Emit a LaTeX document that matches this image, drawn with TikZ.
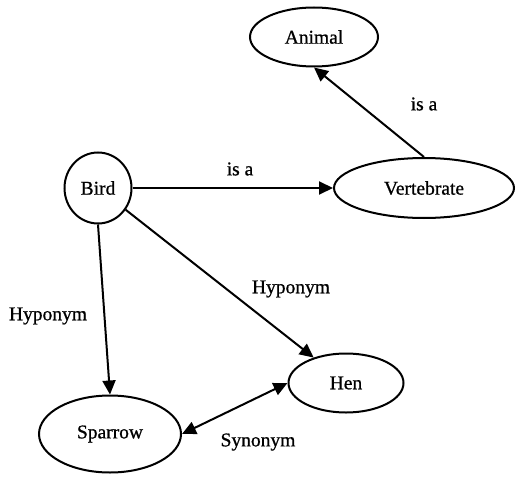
\documentclass[tikz,border=0pt]{standalone}
\usepackage{fontspec}
\setmainfont[FakeBold=0.8]{Liberation Serif}
\usetikzlibrary{positioning, arrows.meta, shapes.geometric}

\begin{document}
\begin{tikzpicture}[x=1pt, y=-1pt,
    every node/.style={font=\fontsize{19.5}{22}\selectfont},
    concept/.style={draw, ellipse, line width=2pt, inner sep=0pt},
    rel/.style={line width=2pt, -{Triangle[length=14pt, width=13pt]}},
    lbl/.style={inner sep=0pt}]
  \useasboundingbox (0,0) rectangle (516,476);

  % concepts
  \node[concept, minimum width=128pt, minimum height=59pt] (animal) at (314,37) {Animal};
  \node[concept, minimum width=180pt, minimum height=60pt] (vert) at (424,188) {Vertebrate};
  \node[concept, minimum width=67pt, minimum height=71pt] (bird) at (98,188) {Bird};
  \node[concept, minimum width=115pt, minimum height=59pt] (hen) at (346,383) {Hen};
  \node[concept, minimum width=142pt, minimum height=77pt] (sparrow) at (110,434) {Sparrow};

  % relations
  \draw[rel] (bird) -- (vert);
  \draw[rel] (vert.north) -- (animal.south);
  \draw[rel] (bird.south) -- (sparrow.north);
  \draw[rel] (bird) -- (hen);
  \draw[rel, {Triangle[length=14pt, width=13pt]}-{Triangle[length=14pt, width=13pt]}] (sparrow.east) -- (hen.west);

  % labels
  \node[lbl] (isa1) at (240,169) {is a};
  \node[lbl] (isa2) at (424,104) {is a};
  \node[lbl] (hypo1) at (48,316) {Hyponym};
  \node[lbl] (hypo2) at (291,289) {Hyponym};
  \node[lbl] (syn) at (258,442) {Synonym};
\end{tikzpicture}
\end{document}
